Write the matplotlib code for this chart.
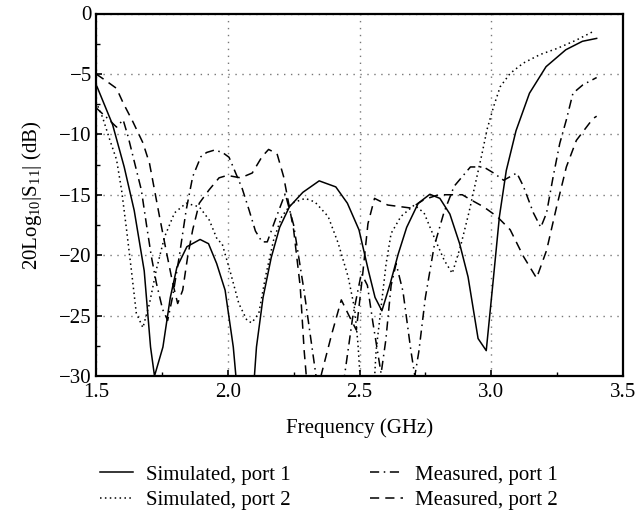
import matplotlib
matplotlib.use("Agg")
import matplotlib.pyplot as plt
from matplotlib.ticker import MultipleLocator

plt.rcParams['font.family'] = ['Liberation Serif', 'DejaVu Serif']
plt.rcParams['mathtext.fontset'] = 'custom'
plt.rcParams['mathtext.rm'] = 'Liberation Serif'
plt.rcParams['mathtext.it'] = 'Liberation Serif:italic'

# frequency (GHz) / return loss (dB)
sim1_f = [1.5, 1.504, 1.563, 1.607, 1.645, 1.683, 1.707, 1.722, 1.754, 1.782, 1.807,
          1.845, 1.895, 1.927, 1.958, 1.99, 2.021, 2.035, 2.065, 2.098, 2.109, 2.134,
          2.165, 2.197, 2.234, 2.285, 2.347, 2.41, 2.454, 2.498, 2.534, 2.559, 2.585,
          2.616, 2.647, 2.679, 2.723, 2.767, 2.805, 2.843, 2.88, 2.912, 2.95, 2.981,
          3.006, 3.031, 3.057, 3.094, 3.145, 3.208, 3.283, 3.346, 3.4]
sim1_db = [-5.9, -6.06, -9.2, -12.7, -16.3, -21.3, -27.6, -30.0, -27.6, -23.5, -21.0,
           -19.3, -18.7, -19.05, -20.7, -22.9, -27.6, -31.0, -36.0, -31.0, -27.6, -23.5,
           -20.2, -17.7, -16.0, -14.8, -13.85, -14.35, -15.7, -17.9, -21.3, -23.5, -24.6,
           -22.4, -19.9, -17.7, -15.7, -14.96, -15.3, -16.6, -19.05, -21.8, -26.9, -27.9,
           -22.4, -16.8, -13.0, -9.7, -6.6, -4.4, -3.0, -2.3, -2.06]

sim2_f = [1.5, 1.525, 1.553, 1.578, 1.597, 1.616, 1.634, 1.653, 1.678, 1.703, 1.729,
          1.76, 1.798, 1.842, 1.892, 1.93, 1.961, 1.978, 2.011, 2.042, 2.073, 2.091,
          2.118, 2.143, 2.174, 2.205, 2.243, 2.294, 2.331, 2.381, 2.419, 2.457, 2.482,
          2.494, 2.505, 2.53, 2.555, 2.563, 2.582, 2.601, 2.62, 2.657, 2.708, 2.745,
          2.783, 2.821, 2.852, 2.883, 2.915, 2.94, 2.965, 2.984, 3.009, 3.034, 3.072,
          3.122, 3.185, 3.249, 3.323, 3.386]
sim2_db = [-7.3, -8.6, -10.5, -12.1, -14.6, -17.9, -21.2, -24.8, -26.0, -24.0, -21.2,
           -18.5, -16.5, -15.7, -16.0, -17.1, -18.75, -19.0, -21.5, -24.0, -25.4, -25.6,
           -24.8, -21.8, -18.75, -16.8, -15.7, -15.3, -15.6, -16.8, -19.0, -21.8, -24.5,
           -27.3, -31.0, -33.0, -31.0, -27.9, -24.3, -20.7, -18.2, -16.8, -15.85, -16.5,
           -18.5, -20.4, -21.5, -19.3, -16.5, -14.05, -11.6, -9.6, -7.7, -6.06, -4.95,
           -4.1, -3.4, -2.9, -2.2, -1.5]

meas1_f = [1.5, 1.54, 1.578, 1.603, 1.622, 1.647, 1.672, 1.691, 1.71, 1.729, 1.753,
           1.772, 1.791, 1.816, 1.842, 1.867, 1.898, 1.92, 1.95, 1.98, 2.005, 2.03,
           2.055, 2.08, 2.105, 2.13, 2.15, 2.18, 2.218, 2.25, 2.29, 2.335, 2.36, 2.40,
           2.443, 2.475, 2.507, 2.53, 2.551, 2.582, 2.60, 2.62, 2.639, 2.665, 2.695,
           2.71, 2.725, 2.75, 2.783, 2.82, 2.859, 2.921, 2.971, 3.009, 3.047, 3.097,
           3.122, 3.16, 3.188, 3.21, 3.235, 3.26, 3.285, 3.31, 3.348, 3.4]
meas1_db = [-7.8, -8.6, -9.4, -8.8, -10.2, -12.4, -14.6, -17.4, -20.1, -22.3, -24.5,
            -25.4, -23.4, -20.1, -16.3, -13.5, -11.85, -11.5, -11.3, -11.5, -11.9, -13.2,
            -14.5, -16.2, -18.0, -18.9, -18.9, -17.1, -14.9, -17.5, -23.0, -30.0, -33.0,
            -33.0, -30.0, -25.0, -21.5, -22.5, -25.6, -29.8, -27.0, -22.5, -20.7, -23.0,
            -27.9, -30.0, -28.0, -23.5, -19.3, -16.5, -14.3, -12.7, -12.7, -13.2, -13.8,
            -13.2, -14.3, -16.5, -17.7, -16.5, -13.5, -10.75, -8.8, -6.6, -5.9, -5.3]

meas2_f = [1.5, 1.54, 1.578, 1.603, 1.64, 1.678, 1.703, 1.722, 1.741, 1.766, 1.791,
           1.81, 1.829, 1.848, 1.867, 1.892, 1.929, 1.967, 1.998, 2.049, 2.093, 2.13,
           2.155, 2.187, 2.212, 2.231, 2.25, 2.275, 2.29, 2.30, 2.335, 2.356, 2.395,
           2.431, 2.46, 2.488, 2.51, 2.532, 2.557, 2.607, 2.695, 2.745, 2.8, 2.89,
           2.921, 2.971, 3.022, 3.072, 3.122, 3.172, 3.21, 3.248, 3.285, 3.323, 3.386,
           3.4]
meas2_db = [-5.0, -5.6, -6.2, -7.4, -8.96, -10.7, -12.4, -14.6, -16.8, -19.6, -22.3,
            -24.0, -22.9, -20.1, -17.9, -15.7, -14.6, -13.6, -13.4, -13.6, -13.2, -11.85,
            -11.25, -11.6, -13.5, -15.7, -17.9, -22.6, -27.9, -30.5, -32.0, -29.8, -26.5,
            -23.7, -25.0, -26.2, -22.0, -17.4, -15.3, -15.85, -16.1, -15.4, -15.0, -15.0,
            -15.4, -16.0, -16.8, -17.9, -20.1, -21.9, -19.6, -16.0, -12.7, -10.5, -8.7,
            -8.5]

labels = ['Simulated, port 1', 'Simulated, port 2', 'Measured, port 1', 'Measured, port 2']

fs = 15
fig = plt.figure(figsize=(6.37, 5.13), dpi=100, facecolor='white')
ax = fig.add_axes([96 / 637, 1 - 376 / 513, 527 / 637, 362.5 / 513])

lw = 1.1
ax.plot(sim1_f, sim1_db, color='black', lw=lw, ls='-', label=labels[0])
ax.plot(sim2_f, sim2_db, color='black', lw=lw, ls=(0, (1, 2.2)), label=labels[1])
ax.plot(meas1_f, meas1_db, color='black', lw=lw, ls=(0, (6, 3, 1, 3)), label=labels[2])
ax.plot(meas2_f, meas2_db, color='black', lw=lw, ls=(0, (6, 4)), label=labels[3])

ax.set_xlim(1.5, 3.5)
ax.set_ylim(-30, 0)
ax.xaxis.set_major_locator(MultipleLocator(0.5))
ax.xaxis.set_minor_locator(MultipleLocator(0.25))
ax.yaxis.set_major_locator(MultipleLocator(5))
ax.yaxis.set_minor_locator(MultipleLocator(2.5))
ax.xaxis.set_major_formatter(plt.FormatStrFormatter('%.1f'))
ax.tick_params(which='both', direction='in', top=False, right=False, labelsize=fs)
ax.tick_params(which='major', length=4, width=1.2)
ax.tick_params(which='minor', length=3, width=1)
ax.tick_params(axis='x', which='major', pad=5)
ax.tick_params(axis='y', which='major', pad=3)
ax.grid(True, which='major', color='#777777', ls=(0, (1, 4)), lw=1)
for s in ax.spines.values():
    s.set_linewidth(1.6)

ax.set_xlabel('Frequency (GHz)', fontsize=fs, labelpad=12)
ax.set_ylabel(r'20Log$_{10}$|S$_{11}$| (dB)', fontsize=fs, labelpad=11)

fig.legend(loc='upper left', bbox_to_anchor=(100 / 637, 1 - 465 / 513), ncol=2,
           frameon=False, fontsize=fs, handlelength=1.6, handletextpad=0.6,
           columnspacing=3.8, labelspacing=0.3, borderpad=0, borderaxespad=0)

fig.savefig('out.png', dpi=100)
